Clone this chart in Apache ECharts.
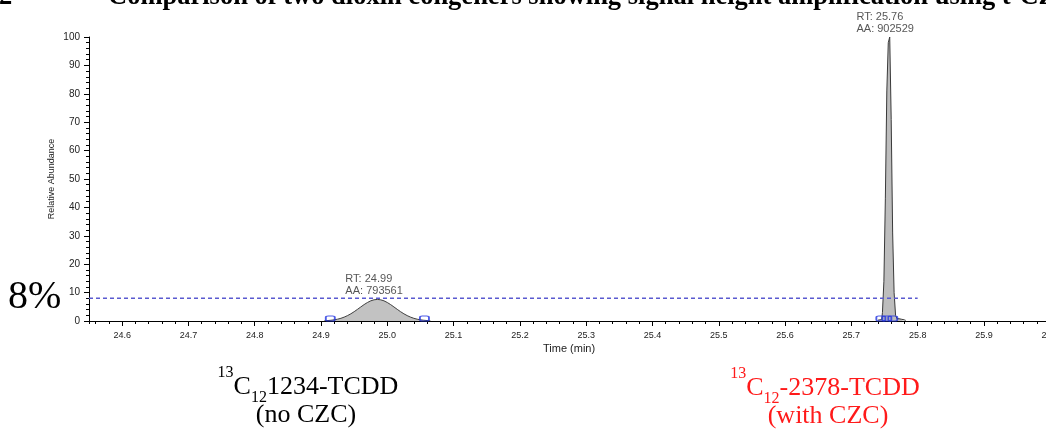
<!DOCTYPE html>
<html>
<head>
<meta charset="utf-8">
<script src="https://cdn.jsdelivr.net/npm/echarts@6/dist/echarts.min.js"></script>
<style>
  html, body { margin: 0; padding: 0; background: #fff; overflow: hidden; }
  #chart { width: 1100px; height: 430px; }
</style>
</head>
<body>
<div id="chart"></div>
<script>
// Time window (min) and relative-abundance scale (%)
const timeMin = 24.55;
const timeMax = 26.06;
const abundMin = 0;
const abundMax = 100;

// Threshold reference level
const thresholdLevel = 8;
const thresholdEnd = 25.8;

// 13C12-1234-TCDD trace (no CZC)
const peak1Time = [24.905, 24.915, 24.920, 24.925, 24.930, 24.935, 24.940, 24.945, 24.950, 24.955,
                   24.960, 24.965, 24.970, 24.975, 24.980, 24.985, 24.990, 24.995, 25.000, 25.005,
                   25.010, 25.015, 25.020, 25.025, 25.030, 25.035, 25.040, 25.045, 25.050, 25.055, 25.065];
const peak1Abund = [0.05, 0.26, 0.42, 0.64, 0.95, 1.37, 1.90, 2.54, 3.28, 4.10,
                    4.95, 5.78, 6.51, 7.10, 7.47, 7.60, 7.47, 7.10, 6.51, 5.78,
                    4.95, 4.10, 3.28, 2.54, 1.90, 1.37, 0.95, 0.64, 0.42, 0.26, 0.05];

// 13C12-2378-TCDD trace (with CZC)
const peak2Time = [25.7400, 25.7458, 25.7480, 25.7502, 25.7524, 25.7546, 25.7568, 25.7590, 25.7612,
                   25.7634, 25.7656, 25.7678, 25.7700, 25.7740, 25.7780, 25.7820];
const peak2Abund = [0.3, 0.5, 3, 14, 43, 81, 98, 100, 71,
                    31, 10, 2, 0.8, 0.6, 0.4, 0.2];

// Integration results
const peakRT = [24.99, 25.76];
const peakArea = [793561, 902529];

// Integration boundary markers (min)
const peak1Marks = [24.914, 25.056];
const peak2Marks = [25.7445, 25.7535, 25.7625];

// Compound captions
const compoundNames = ['1234-TCDD', '-2378-TCDD'];
const compoundNotes = ['(no CZC)', '(with CZC)'];

const axisFont = '"Liberation Sans", Arial, sans-serif';
const serifFont = '"Liberation Serif", "Times New Roman", serif';

// apex point (time, abundance) of a trace
function apexOf(times, values) {
  let k = 0;
  values.forEach((v, j) => { if (v > values[k]) k = j; });
  return [times[k], values[k]];
}

const apexes = [apexOf(peak1Time, peak1Abund), apexOf(peak2Time, peak2Abund)];
const labelShift = [-32, -34];

const chart = echarts.init(document.getElementById('chart'), null, { renderer: 'canvas' });

const tickStyle = { color: '#000', width: 1 };

function caption(x, y, name, color) {
  return {
    type: 'text', x: x, y: y,
    style: {
      text: '{sup|13}{n|C}{sub|12}{n|' + name + '}',
      align: 'center', verticalAlign: 'top', fill: color,
      rich: {
        n: { fontFamily: serifFont, fontSize: 26, lineHeight: 44, color: color },
        sup: { fontFamily: serifFont, fontSize: 16, lineHeight: 17, verticalAlign: 'top', color: color },
        sub: { fontFamily: serifFont, fontSize: 16, lineHeight: 16, verticalAlign: 'bottom', padding: [0, 0, 3, 0], color: color }
      }
    }
  };
}

chart.setOption({
  animation: false,
  backgroundColor: '#fff',
  grid: { left: 89, top: 37, width: 1001, height: 284 },
  xAxis: [
    {
      type: 'value', min: timeMin, max: timeMax,
      splitNumber: 75, minInterval: 0.02, maxInterval: 0.02,
      axisLine: { show: true, lineStyle: { color: '#000', width: 1 } },
      axisTick: { show: true, length: 3, lineStyle: tickStyle },
      axisLabel: { show: false },
      splitLine: { show: false }
    },
    {
      type: 'value', min: timeMin, max: timeMax, position: 'bottom',
      splitNumber: 15, minInterval: 0.1, maxInterval: 0.1,
      axisLine: { show: false },
      axisTick: { show: true, length: 5, lineStyle: tickStyle },
      axisLabel: {
        show: true, margin: 10, fontFamily: axisFont, fontSize: 9, color: '#222',
        showMinLabel: false, showMaxLabel: false,
        formatter: v => v.toFixed(1)
      },
      splitLine: { show: false }
    }
  ],
  yAxis: [
    {
      type: 'value', min: abundMin, max: abundMax, interval: 2,
      name: 'Relative Abundance', nameLocation: 'middle', nameGap: 33,
      nameTextStyle: { fontFamily: axisFont, fontSize: 9, color: '#222' },
      axisLine: { show: true, lineStyle: { color: '#000', width: 1 } },
      axisTick: { show: true, length: 3, lineStyle: tickStyle },
      axisLabel: { show: false },
      splitLine: { show: false }
    },
    {
      type: 'value', min: abundMin, max: abundMax, interval: 10, position: 'left',
      axisLine: { show: false },
      axisTick: { show: true, length: 5, lineStyle: tickStyle },
      axisLabel: { show: true, margin: 9, fontFamily: axisFont, fontSize: 10, color: '#222' },
      splitLine: { show: false }
    }
  ],
  series: [
    {
      name: '13C12-1234-TCDD', type: 'line', xAxisIndex: 0, yAxisIndex: 0,
      data: peak1Time.map((t, k) => [t, peak1Abund[k]]),
      showSymbol: false, symbol: 'none',
      lineStyle: { color: '#404040', width: 1 },
      areaStyle: { color: '#c2c2c2', opacity: 1 },
      z: 3
    },
    {
      name: '13C12-2378-TCDD', type: 'line', step: 'middle', xAxisIndex: 0, yAxisIndex: 0,
      data: peak2Time.map((t, k) => [t, peak2Abund[k]]),
      showSymbol: false, symbol: 'none',
      lineStyle: { color: '#3a3a3a', width: 1 },
      areaStyle: { color: '#bdbdbd', opacity: 1 },
      z: 3
    },
    {
      name: 'apex', type: 'scatter', xAxisIndex: 0, yAxisIndex: 0,
      data: apexes,
      symbol: 'circle', symbolSize: 1,
      itemStyle: { color: 'rgba(0,0,0,0)' },
      label: {
        show: true, position: 'top', align: 'left', distance: 2,
        fontFamily: axisFont, fontSize: 11, lineHeight: 12, color: '#2a2a2a',
        formatter: p => 'RT: ' + peakRT[p.dataIndex].toFixed(2) + '\nAA: ' + peakArea[p.dataIndex]
      },
      labelLayout: p => ({ dx: labelShift[p.dataIndex] }),
      z: 6
    },
    {
      name: 'threshold', type: 'line', xAxisIndex: 0, yAxisIndex: 0,
      data: [[timeMin, thresholdLevel], [thresholdEnd, thresholdLevel]],
      showSymbol: false, symbol: 'none',
      lineStyle: { color: '#5a5ad0', width: 1.5, type: [4, 3] },
      z: 4
    },
    {
      name: 'boundaries', type: 'scatter', xAxisIndex: 0, yAxisIndex: 0,
      data: peak1Marks.concat(peak2Marks).map(t => [t, 0]),
      symbol: 'roundRect', symbolSize: [9, 5], symbolOffset: [0, -2.5],
      itemStyle: { color: 'rgba(255,255,255,0)', borderColor: '#2233e0', borderWidth: 1.4 },
      z: 5
    }
  ],
  graphic: [
    {
      type: 'text', x: -1, y: -2.5,
      style: { text: '2', font: 'bold 26.5px ' + serifFont, fill: '#000', verticalAlign: 'middle' }
    },
    {
      type: 'text', x: 108, y: -2.5,
      style: {
        text: 'Comparison of two dioxin congeners showing signal height amplification using t-CZC',
        font: 'bold 26.5px ' + serifFont, fill: '#000', verticalAlign: 'middle'
      }
    },
    {
      type: 'text', x: 8, y: 297,
      style: { text: '8%', font: '40px ' + serifFont, fill: '#000', verticalAlign: 'middle' }
    },
    {
      type: 'text', x: 543, y: 349,
      style: { text: 'Time (min)', font: '11px ' + axisFont, fill: '#222', verticalAlign: 'middle' }
    },
    caption(308, 365, compoundNames[0], '#000'),
    {
      type: 'text', x: 306, y: 415,
      style: { text: compoundNotes[0], font: '26px ' + serifFont, fill: '#000', align: 'center', verticalAlign: 'middle' }
    },
    caption(825, 366, compoundNames[1], '#ff1a1a'),
    {
      type: 'text', x: 828, y: 416,
      style: { text: compoundNotes[1], font: '26px ' + serifFont, fill: '#ff1a1a', align: 'center', verticalAlign: 'middle' }
    }
  ]
});
</script>
</body>
</html>
